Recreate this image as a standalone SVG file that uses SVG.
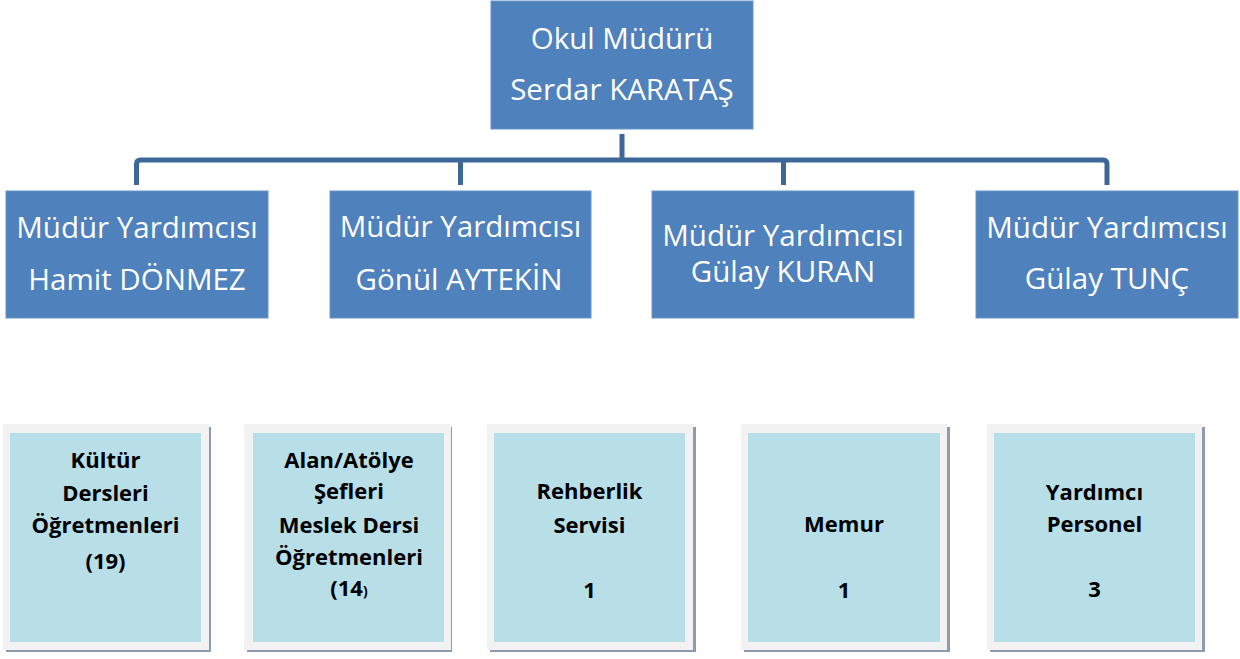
<svg xmlns="http://www.w3.org/2000/svg" width="1240" height="659" viewBox="0 0 1240 659">
<style>
.head{fill:#4F81BD;stroke:#6A94C8;stroke-width:1}
.ht{font-family:"Open Sans","Liberation Sans",sans-serif;font-size:29.5px;fill:#FFFFFF;text-anchor:middle}
.shadow{fill:#8E9BAF}
.frame{fill:#F2F2F2}
.inner{fill:#B8DEE8}
.bt{font-family:"Open Sans","Liberation Sans",sans-serif;font-size:22px;font-weight:bold;fill:#000000;text-anchor:middle}
.conn{fill:none;stroke:#3C6798;stroke-width:5}
</style>
<rect width="1240" height="659" fill="#FFFFFF"/>
<g id="connectors">
<path class="conn" d="M622,134 V160"/>
<path class="conn" d="M136.5,185 V164 Q136.5,160 140.5,160 H1103 Q1107,160 1107,164 V185"/>
<path class="conn" d="M460.5,160 V185"/>
<path class="conn" d="M783.5,160 V185"/>
</g>
<g id="okul-muduru">
<rect class="head" x="491" y="1" width="262" height="128"/>
<text class="ht" x="622" y="49">Okul Müdürü</text>
<text class="ht" x="622" y="100">Serdar KARATAŞ</text>
</g>
<g id="my-hamit">
<rect class="head" x="6" y="191" width="262" height="127"/>
<text class="ht" x="137" y="238">Müdür Yardımcısı</text>
<text class="ht" x="137" y="290">Hamit DÖNMEZ</text>
</g>
<g id="my-gonul">
<rect class="head" x="330" y="191" width="261" height="127"/>
<text class="ht" x="460.5" y="237">Müdür Yardımcısı</text>
<text class="ht" x="459" y="290">Gönül AYTEKİN</text>
</g>
<g id="my-gulay-kuran">
<rect class="head" x="652" y="191" width="262" height="127"/>
<text class="ht" x="783" y="246">Müdür Yardımcısı</text>
<text class="ht" x="783" y="282">Gülay KURAN</text>
</g>
<g id="my-gulay-tunc">
<rect class="head" x="976" y="191" width="262" height="127"/>
<text class="ht" x="1107" y="238">Müdür Yardımcısı</text>
<text class="ht" x="1107" y="288.5">Gülay TUNÇ</text>
</g>
<g id="kultur">
<rect class="shadow" x="6" y="427" width="205" height="225"/>
<rect class="frame" x="3" y="424" width="206" height="226"/>
<rect class="inner" x="10" y="433" width="191" height="209"/>
<text class="bt" x="105.5" y="468">Kültür</text>
<text class="bt" x="105.5" y="500.5">Dersleri</text>
<text class="bt" x="105.5" y="532.7">Öğretmenleri</text>
<text class="bt" x="105.5" y="568.7">(19)</text>
</g>
<g id="alan-atolye">
<rect class="shadow" x="247" y="427" width="205" height="225"/>
<rect class="frame" x="244" y="424" width="207" height="226"/>
<rect class="inner" x="253" y="433" width="191" height="209"/>
<text class="bt" x="349" y="467.7">Alan/Atölye</text>
<text class="bt" x="349" y="499">Şefleri</text>
<text class="bt" x="349" y="532.7">Meslek Dersi</text>
<text class="bt" x="349" y="565">Öğretmenleri</text>
<text class="bt" x="349" y="596">(14<tspan font-size="14px">)</tspan></text>
</g>
<g id="rehberlik">
<rect class="shadow" x="490" y="427" width="206" height="225"/>
<rect class="frame" x="487" y="424" width="206" height="226"/>
<rect class="inner" x="494" y="433" width="191" height="209"/>
<text class="bt" x="589.5" y="499">Rehberlik</text>
<text class="bt" x="589.5" y="532.7">Servisi</text>
<text class="bt" x="589.5" y="597.7">1</text>
</g>
<g id="memur">
<rect class="shadow" x="744" y="427" width="206" height="225"/>
<rect class="frame" x="741" y="424" width="206" height="226"/>
<rect class="inner" x="748" y="433" width="192" height="209"/>
<text class="bt" x="844" y="532">Memur</text>
<text class="bt" x="844" y="598">1</text>
</g>
<g id="yardimci-personel">
<rect class="shadow" x="990" y="427" width="215" height="225"/>
<rect class="frame" x="987" y="424" width="215" height="226"/>
<rect class="inner" x="994" y="433" width="201" height="209"/>
<text class="bt" x="1094.5" y="499.5">Yardımcı</text>
<text class="bt" x="1094.5" y="531.7">Personel</text>
<text class="bt" x="1094.5" y="597">3</text>
</g>
</svg>
